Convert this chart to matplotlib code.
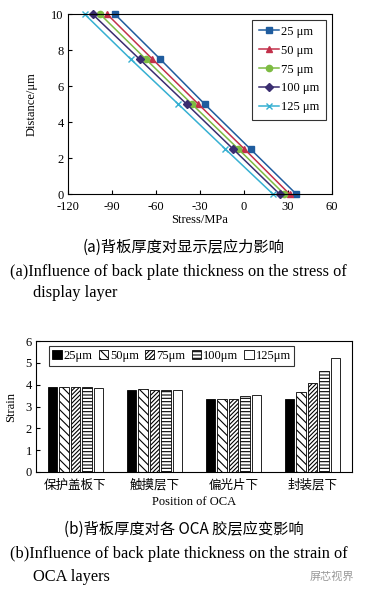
import numpy as np
import matplotlib
matplotlib.use("Agg")
import matplotlib.pyplot as plt

plt.rcParams["font.family"] = ["Liberation Serif", "Noto Sans CJK SC"]
plt.rcParams["axes.unicode_minus"] = False
plt.rcParams["hatch.linewidth"] = 0.8

# 上图: 显示层应力
distance = [0, 2.5, 5, 7.5, 10]
thick_labels = ["25 μm", "50 μm", "75 μm", "100 μm", "125 μm"]
stress_25 = [35.6, 4.4, -26.8, -57.1, -88.0]
stress_50 = [31.0, 0.3, -31.1, -62.4, -93.3]
stress_75 = [27.4, -3.8, -35.5, -66.9, -98.1]
stress_100 = [24.2, -7.4, -39.1, -71.2, -103.2]
stress_125 = [19.7, -12.7, -44.8, -77.2, -108.6]

# 下图: OCA 胶层应变
positions = ["保护盖板下", "触摸层下", "偏光片下", "封装层下"]
bar_labels = ["25μm", "50μm", "75μm", "100μm", "125μm"]
strain_25 = [3.90, 3.77, 3.33, 3.36]
strain_50 = [3.90, 3.78, 3.33, 3.66]
strain_75 = [3.90, 3.77, 3.36, 4.06]
strain_100 = [3.90, 3.77, 3.46, 4.61]
strain_125 = [3.87, 3.77, 3.55, 5.23]

line_colors = ["#1f5c9e", "#c2304a", "#7dbb42", "#3a2d70", "#36b0d2"]
markers = ["s", "^", "o", "D", "x"]
msizes = [4.5, 5, 4.5, 4, 5]

fs = 9

fig = plt.figure(figsize=(3.67, 5.90), dpi=100)

# ---- 图 (a) ----
ax1 = fig.add_axes([0.185, 0.671, 0.720, 0.305])
for s, lab, c, m, ms in zip(
    [stress_25, stress_50, stress_75, stress_100, stress_125],
    thick_labels, line_colors, markers, msizes,
):
    ax1.plot(s, distance, color=c, marker=m, markersize=ms, linewidth=1.1,
             label=lab, clip_on=False, markeredgewidth=1.0)
ax1.set_xlim(-120, 60)
ax1.set_ylim(0, 10)
ax1.set_xticks([-120, -90, -60, -30, 0, 30, 60])
ax1.set_yticks([0, 2, 4, 6, 8, 10])
ax1.tick_params(direction="in", labelsize=fs, length=3, width=0.8)
ax1.tick_params(axis="x", pad=5)
ax1.tick_params(axis="y", pad=3)
ax1.set_xlabel("Stress/MPa", fontsize=fs, labelpad=1)
ax1.set_ylabel("Distance/μm", fontsize=fs, labelpad=10)
for sp in ax1.spines.values():
    sp.set_linewidth(0.8)
leg1 = ax1.legend(loc="upper right", fontsize=fs, frameon=True, fancybox=False,
                  edgecolor="black", handlelength=1.6, labelspacing=0.55,
                  borderpad=0.5, handletextpad=0.2, borderaxespad=0,
                  bbox_to_anchor=(0.975, 0.97))
leg1.get_frame().set_linewidth(0.8)

fig.text(0.5, 0.581, "(a)背板厚度对显示层应力影响", ha="center", va="center",
         fontsize=11, family=["Noto Sans CJK SC"])
fig.text(0.027, 0.539, "(a)Influence of back plate thickness on the stress of",
         ha="left", va="center", fontsize=11.8)
fig.text(0.09, 0.503, "display layer", ha="left", va="center", fontsize=11.8)

# ---- 图 (b) ----
ax2 = fig.add_axes([0.098, 0.200, 0.861, 0.222])
x = np.arange(len(positions))
w = 0.146
hatches = [None, "\\\\\\\\", "////////", "-----", None]
faces = ["black", "white", "white", "white", "white"]
for i, (vals, lab) in enumerate(zip(
    [strain_25, strain_50, strain_75, strain_100, strain_125], bar_labels)):
    ax2.bar(x + (i - 2) * w, vals, width=w * 0.82, color=faces[i],
            edgecolor="black", hatch=hatches[i], linewidth=0.6, label=lab)
ax2.set_xlim(-0.5, 3.5)
ax2.set_ylim(0, 6)
ax2.set_yticks([0, 1, 2, 3, 4, 5, 6])
ax2.set_xticks(x)
ax2.set_xticklabels(positions, family=["Noto Sans CJK SC"], fontsize=9)
ax2.tick_params(axis="y", direction="in", labelsize=fs, length=3, width=0.8,
                pad=3)
ax2.tick_params(axis="x", length=0, pad=5)
ax2.set_xlabel("Position of OCA", fontsize=fs, labelpad=3)
ax2.set_ylabel("Strain", fontsize=fs, labelpad=6)
for sp in ax2.spines.values():
    sp.set_linewidth(0.8)
leg2 = ax2.legend(loc="upper left", ncol=5, fontsize=fs, frameon=True,
                  fancybox=False, edgecolor="black", handlelength=0.75,
                  handleheight=0.75, handletextpad=0.15, columnspacing=0.5,
                  borderpad=0.3, borderaxespad=0,
                  bbox_to_anchor=(0.04, 0.96))
leg2.get_frame().set_linewidth(0.8)

fig.text(0.5, 0.102, "(b)背板厚度对各 OCA 胶层应变影响", ha="center", va="center",
         fontsize=11, family=["Noto Sans CJK SC"])
fig.text(0.027, 0.061, "(b)Influence of back plate thickness on the strain of",
         ha="left", va="center", fontsize=11.8)
fig.text(0.09, 0.022, "OCA layers", ha="left", va="center", fontsize=11.8)
fig.text(0.965, 0.022, "屏芯视界", ha="right", va="center", fontsize=8,
         color="#999999", family=["Noto Sans CJK SC"])

fig.savefig("out.png", dpi=100)
